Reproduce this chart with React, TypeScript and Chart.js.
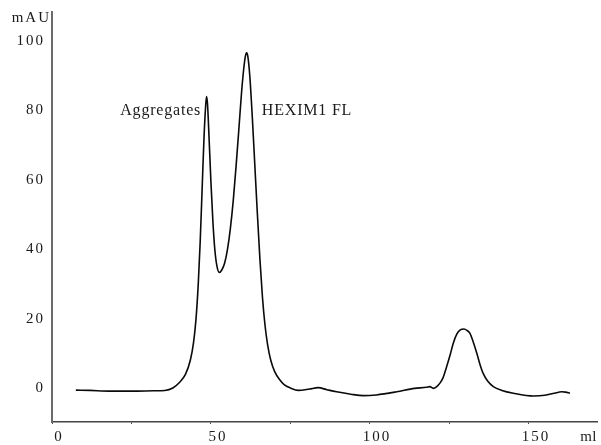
import React, { useEffect, useRef } from "react";
import { Chart, registerables } from "chart.js";

Chart.register(...registerables);

// Elution volume (ml) and absorbance (mAU)
const volumeMl = [
  7.5, 12, 18, 25, 32, 35.5, 38, 40, 42, 43.5, 44.5, 45.3, 46, 46.6, 47.2, 47.8, 48.3, 48.6,
  48.9, 49.4, 50, 50.6, 51.2, 51.8, 52.6, 53.4, 54.3, 55.2, 56.1, 57, 57.9, 58.8, 59.6, 60.3,
  60.8, 61.2, 61.6, 62.2, 63, 63.8, 64.6, 65.4, 66.2, 67, 67.8, 68.8, 70, 71.5, 73, 75, 77.5,
  81, 83.7, 86.5, 89.5, 94, 97.9, 102, 108.4, 114, 117.8, 118.8, 119.9, 121, 122, 123, 124.1,
  125.2, 126.2, 127.3, 128.3, 129.6, 130.5, 131.4, 132.5, 133.6, 134.6, 135.6, 137, 138.8,
  141.5, 145.1, 151.4, 155, 158, 160.3, 161.5, 162.9,
];
const absorbanceMau = [
  -0.6, -0.7, -0.9, -0.9, -0.8, -0.7, 0, 1.5, 4, 8, 13, 20, 30, 42, 57, 72, 81, 84,
  82, 72, 59, 48, 40, 35.5, 33.3, 34, 36, 40, 46, 54, 64, 75, 85, 92,
  95.5, 96.6, 95.5, 90, 78, 64, 50, 37, 26, 18, 12.5, 8, 4.8, 2.5, 1, 0, -0.7,
  -0.3, 0.1, -0.5, -1.1, -1.8, -2.2, -2, -1.1, -0.1, 0.2, 0.4, -0.1, 0.4, 1.4, 3, 6.1,
  9.5, 12.9, 15.5, 16.7, 17, 16.6, 15.8, 13.2, 10, 6.8, 4.2, 2, 0.4,
  -0.7, -1.5, -2.3, -2.1, -1.5, -1.1, -1.2, -1.5,
];

const yTickValues = [0, 20, 40, 60, 80, 100];
const xTickValues = [0, 50, 100, 150];
const xMinorTickValues = [25, 75, 125];
const peakLabels = [
  { text: "Aggregates", x: 46.9, y: 80, align: "right" as CanvasTextAlign },
  { text: "HEXIM1 FL", x: 66, y: 80, align: "left" as CanvasTextAlign },
];
const yUnit = "mAU";
const xUnit = "ml";

const FONT = "'Liberation Serif', 'Times New Roman', serif";

export default function App() {
  const ref = useRef<HTMLCanvasElement | null>(null);

  useEffect(() => {
    if (!ref.current) return;
    document.body.style.margin = "0";
    document.body.style.overflow = "hidden";
    const textPlugin = {
      id: "texts",
      beforeDraw(chart: any) {
        (chart.ctx as any).letterSpacing = "2px";
      },
      afterDraw(chart: any) {
        const ctx = chart.ctx as CanvasRenderingContext2D;
        const xs = chart.scales.x;
        const ys = chart.scales.y;
        ctx.save();
        ctx.fillStyle = "#1a1a1a";
        (ctx as any).letterSpacing = "2px";
        ctx.font = `15px ${FONT}`;
        ctx.textBaseline = "middle";
        ctx.textAlign = "right";
        ctx.fillText(yUnit, chart.chartArea.left - 1, 18);
        (ctx as any).letterSpacing = "0.5px";
        ctx.textAlign = "right";
        ctx.fillText(xUnit, chart.chartArea.right, 437);
        (ctx as any).letterSpacing = "0.8px";
        ctx.font = `16px ${FONT}`;
        for (const p of peakLabels) {
          ctx.textAlign = p.align;
          ctx.fillText(p.text, xs.getPixelForValue(p.x), ys.getPixelForValue(p.y));
        }
        ctx.restore();
      },
    };

    const chart = new Chart(ref.current, {
      type: "line",
      data: {
        datasets: [
          {
            data: volumeMl.map((v, i) => ({ x: v, y: absorbanceMau[i] })),
            borderColor: "#0a0a0a",
            borderWidth: 1.6,
            pointRadius: 0,
            fill: false,
            cubicInterpolationMode: "monotone",
          },
        ],
      },
      options: {
        animation: false,
        responsive: false,
        devicePixelRatio: 1,
        layout: { padding: { top: 12, right: 4, left: 0, bottom: 0 } },
        plugins: { legend: { display: false }, tooltip: { enabled: false } },
        scales: {
          x: {
            type: "linear",
            min: 0,
            max: 171.4,
            afterFit: (s: any) => {
              s.height = 23;
              s.paddingLeft = 0;
              s.paddingRight = 0;
            },
            afterBuildTicks: (s: any) => {
              s.ticks = [...xTickValues, ...xMinorTickValues]
                .sort((a, b) => a - b)
                .map((v) => ({ value: v }));
            },
            border: { display: true, color: "#444", width: 1.5 },
            grid: {
              display: true,
              drawOnChartArea: false,
              drawTicks: true,
              tickLength: 2,
              tickColor: "#444",
              tickWidth: 1,
            },
            ticks: {
              includeBounds: false,
              autoSkip: false,
              maxRotation: 0,
              padding: 4,
              labelOffset: 7,
              color: "#1a1a1a",
              font: { family: FONT, size: 15 },
              callback: (v: any) => (xTickValues.includes(Number(v)) ? String(v) : ""),
            },
          },
          y: {
            type: "linear",
            min: -9.8,
            max: 108.36,
            afterFit: (s: any) => {
              s.width = 52;
              s.paddingTop = 0;
              s.paddingBottom = 0;
            },
            afterBuildTicks: (s: any) => {
              s.ticks = yTickValues.map((v) => ({ value: v }));
            },
            border: { display: true, color: "#6a6a6a", width: 2 },
            grid: { display: false, drawTicks: false },
            ticks: {
              includeBounds: false,
              padding: 7,
              color: "#1a1a1a",
              font: { family: FONT, size: 15 },
            },
          },
        },
      },
      plugins: [textPlugin],
    });
    return () => chart.destroy();
  }, []);

  return <canvas ref={ref} width={601} height={445} style={{ display: "block" }} />;
}
